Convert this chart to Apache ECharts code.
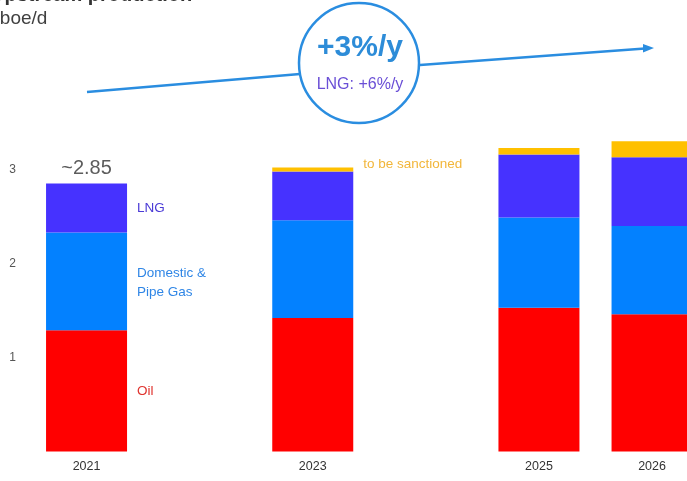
<!DOCTYPE html>
<html>
<head>
<meta charset="utf-8">
<script src="https://cdn.jsdelivr.net/npm/echarts@6/dist/echarts.min.js"></script>
<style>
  html, body { margin: 0; padding: 0; background: #ffffff; }
  #chart { width: 687px; height: 481px; }
</style>
</head>
<body>
<div id="chart"></div>
<script>
// Production by year, Mboe/d (stacked)
const years = ['2021', '2022', '2023', '2024', '2025', '2026'];
const xTickLabels = ['2021', '', '2023', '', '2025', '2026'];
const yTickLabels = ['1', '2', '3'];
const oil = [1.29, null, 1.42, null, 1.53, 1.46];
const gas = [1.04, null, 1.04, null, 0.96, 0.94];
const lng = [0.52, null, 0.52, null, 0.67, 0.73];
const sanctioned = [null, null, 0.04, null, 0.07, 0.17];

const FONT = '"Liberation Sans", Arial, sans-serif';

// total of the first year, shown as "~x.xx" above its bar
const firstTotal = +(oil[0] + gas[0] + lng[0]).toFixed(2);
const totals = years.map((_, i) => (i === 0 ? firstTotal : null));

// put a side label on one item of a series
function withSideLabel(values, idx, text, color, offset) {
  return values.map((v, i) => {
    if (i !== idx || v == null) return v;
    return {
      value: v,
      label: {
        show: true,
        position: 'right',
        distance: 10,
        offset: offset || [0, 0],
        formatter: text,
        color: color,
        fontSize: 13.5,
        lineHeight: 19,
        fontFamily: FONT
      }
    };
  });
}

const chart = echarts.init(document.getElementById('chart'), null, { renderer: 'canvas' });

const option = {
  backgroundColor: '#ffffff',
  animation: false,
  // the plot runs past the right edge; the last bar is cut off
  grid: {
    left: 30, width: 678.6, top: 75.5, height: 376,
    containLabel: false, outerBoundsMode: 'none'
  },
  xAxis: {
    type: 'category',
    data: years,
    axisLine: { show: false },
    axisTick: { show: false },
    axisLabel: {
      interval: 0,
      margin: 9,
      color: '#333333',
      fontSize: 12.5,
      fontFamily: FONT,
      formatter: (v, i) => xTickLabels[i]
    }
  },
  yAxis: {
    type: 'value',
    min: 0,
    max: 4,
    interval: 1,
    axisLine: { show: false },
    axisTick: { show: false },
    splitLine: { show: false },
    axisLabel: {
      margin: 14,
      color: '#555555',
      fontSize: 12,
      fontFamily: FONT,
      formatter: v => (yTickLabels.includes(String(v)) ? String(v) : '')
    }
  },
  series: [
    {
      name: 'Oil',
      type: 'bar',
      stack: 'prod',
      barWidth: 81,
      itemStyle: { color: '#ff0000' },
      data: withSideLabel(oil, 0, 'Oil', '#e0342f')
    },
    {
      name: 'Domestic & Pipe Gas',
      type: 'bar',
      stack: 'prod',
      barWidth: 81,
      itemStyle: { color: '#0381ff' },
      data: withSideLabel(gas, 0, 'Domestic &\nPipe Gas', '#2f86e6', [0, 1])
    },
    {
      name: 'LNG',
      type: 'bar',
      stack: 'prod',
      barWidth: 81,
      itemStyle: { color: '#4632ff' },
      data: withSideLabel(lng, 0, 'LNG', '#4a3ad6')
    },
    {
      name: 'to be sanctioned',
      type: 'bar',
      stack: 'prod',
      barWidth: 81,
      itemStyle: { color: '#ffc000' },
      data: withSideLabel(sanctioned, 2, 'to be sanctioned', '#f2b63a', [0, -5])
    },
    {
      name: 'total',
      type: 'scatter',
      symbolSize: 0,
      silent: true,
      data: totals,
      label: {
        show: true,
        position: 'top',
        distance: 5,
        color: '#333333',
        fontSize: 20,
        fontFamily: FONT,
        formatter: p => '~' + p.value.toFixed(2)
      }
    }
  ],
  graphic: [
    // heading, partly outside the canvas
    {
      type: 'text', left: -10, top: -15,
      style: { text: 'Upstream production', font: 'bold 20px ' + FONT, fill: '#333333' }
    },
    {
      type: 'text', left: -16, top: 9,
      style: { text: 'Mboe/d', font: '19px ' + FONT, fill: '#404040' }
    },
    // growth arrow
    {
      type: 'polyline',
      shape: { points: [[87, 92], [300, 74], [420, 65], [645, 48.5]] },
      style: { stroke: '#2a8de0', lineWidth: 2.5, fill: null },
      z: 10
    },
    {
      type: 'polygon',
      shape: { points: [[643, 44], [654, 48], [643, 52.5]] },
      style: { fill: '#2a8de0' },
      z: 10
    },
    {
      type: 'circle',
      shape: { cx: 359, cy: 63, r: 60 },
      style: { fill: '#ffffff', stroke: '#2a8de0', lineWidth: 2.5 },
      z: 11
    },
    {
      type: 'text', x: 360, y: 63, z: 12,
      style: {
        text: '+3%/y', font: 'bold 30px ' + FONT, fill: '#2d8cd8',
        align: 'center', verticalAlign: 'bottom'
      }
    },
    {
      type: 'text', x: 360, y: 85, z: 12,
      style: {
        text: 'LNG: +6%/y', font: '16px ' + FONT, fill: '#6a4fd6',
        align: 'center', verticalAlign: 'middle'
      }
    }
  ]
};

chart.setOption(option);
</script>
</body>
</html>
